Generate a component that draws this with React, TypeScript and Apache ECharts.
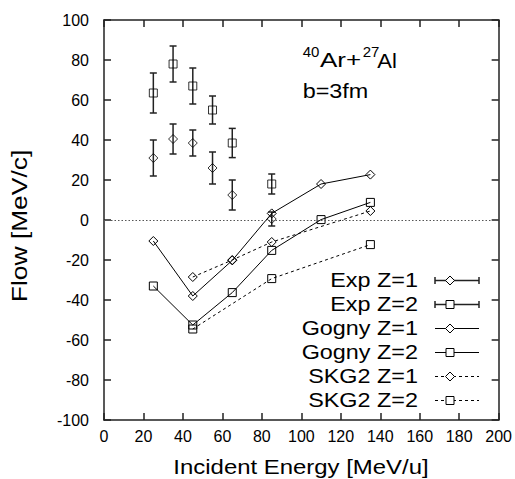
import React, { useEffect, useRef } from "react";
import * as echarts from "echarts";

// ---- data ----
const expEnergies = [25, 35, 45, 55, 65, 85];
const expZ1 = [31, 40.5, 38.5, 26, 12.5, 0.5];
const expZ1Err = [9, 7.5, 6.5, 8, 7.5, 3.5];
const expZ2 = [63.5, 78, 67, 55, 38.5, 18];
const expZ2Err = [10, 9, 9, 7, 7.3, 5];

const gognyEnergies = [25, 45, 65, 85, 110, 135];
const gognyZ1 = [-10.5, -38, -20.2, 3.3, 18, 22.7];
const gognyZ2 = [-33, -52.5, -36.3, -15.2, 0.2, 8.8];

const skg2Z1Energies = [45, 65, 85, 135];
const skg2Z1 = [-28.5, -20, -11, 4.5];
const skg2Z2Energies = [45, 85, 135];
const skg2Z2 = [-54.5, -29.3, -12.3];

const xTicks = { min: 0, max: 200, interval: 20 };
const yTicks = { min: -100, max: 100, interval: 20 };

const legendNames = ["Exp Z=1", "Exp Z=2", "Gogny Z=1", "Gogny Z=2", "SKG2 Z=1", "SKG2 Z=2"];

const FONT = "'Liberation Sans', Arial, Helvetica, sans-serif";
const INK = "#222";

function pairs(xs: number[], ys: number[]) {
  return xs.map((x, i) => [x, ys[i]]);
}
function triples(xs: number[], ys: number[], es: number[]) {
  return xs.map((x, i) => [x, ys[i], es[i]]);
}

function errorRender(params: any, api: any) {
  const x = api.value(0);
  const y = api.value(1);
  const e = api.value(2);
  const top = api.coord([x, y + e]);
  const bot = api.coord([x, y - e]);
  const w = 3.5;
  const st = { stroke: INK, lineWidth: 1.5 };
  return {
    type: "group",
    children: [
      { type: "line", shape: { x1: top[0], y1: top[1], x2: bot[0], y2: bot[1] }, style: st },
      { type: "line", shape: { x1: top[0] - w, y1: top[1], x2: top[0] + w, y2: top[1] }, style: st },
      { type: "line", shape: { x1: bot[0] - w, y1: bot[1], x2: bot[0] + w, y2: bot[1] }, style: st },
    ],
  };
}

function txt(
  text: string,
  x: number,
  y: number,
  size: number,
  align: string,
  scaleX = 1,
  rotation = 0
) {
  return {
    type: "text",
    x,
    y,
    scaleX,
    rotation,
    silent: true,
    style: {
      text,
      fontSize: size,
      fontFamily: FONT,
      fill: "#000",
      textAlign: align,
      align,
      textVerticalAlign: "middle",
      verticalAlign: "middle",
    },
  };
}

function legendGraphics() {
  const els: any[] = [];
  const textRight = 418;
  const x1 = 435;
  const x2 = 479;
  const mx = 450;
  legendNames.forEach((name, i) => {
    const y = 280.5 + i * 24;
    els.push(txt(name, textRight, y, 20, "right", 1.17));
    const dashed = i >= 4;
    const lineStyle: any = { stroke: i < 2 ? INK : "#000", lineWidth: i < 2 ? 1.5 : 1 };
    if (dashed) lineStyle.lineDash = [3, 3];
    els.push({ type: "line", silent: true, shape: { x1, y1: y, x2, y2: y }, style: lineStyle });
    if (i < 2) {
      els.push({ type: "line", silent: true, shape: { x1, y1: y - 3.5, x2: x1, y2: y + 3.5 }, style: { stroke: INK, lineWidth: 1.5 } });
      els.push({ type: "line", silent: true, shape: { x1: x2, y1: y - 3.5, x2: x2, y2: y + 3.5 }, style: { stroke: INK, lineWidth: 1.5 } });
    }
    const isDiamond = i % 2 === 0;
    if (isDiamond) {
      els.push({
        type: "polygon",
        silent: true,
        shape: { points: [[mx, y - 4.5], [mx + 4.5, y], [mx, y + 4.5], [mx - 4.5, y]] },
        style: { fill: "#fff", stroke: "#000", lineWidth: 1 },
      });
    } else {
      els.push({
        type: "rect",
        silent: true,
        shape: { x: mx - 4, y: y - 4, width: 8, height: 8 },
        style: { fill: "#fff", stroke: "#000", lineWidth: 1 },
      });
    }
  });
  return els;
}

function axisCommon(extra: any) {
  return {
    type: "value",
    splitLine: { show: false },
    axisLine: { show: true, onZero: false, lineStyle: { color: INK, width: 1.5 } },
    axisTick: { show: true, inside: true, length: 7, lineStyle: { color: INK, width: 1.5 } },
    ...extra,
  };
}

const markerStyle = { color: "transparent", borderColor: "#000", borderWidth: 1 };

export default function App() {
  const ref = useRef<HTMLDivElement>(null);
  useEffect(() => {
    if (!ref.current) return;
    const chart = echarts.init(ref.current, null, { renderer: "svg" });
    const labelStyle = { fontSize: 16, color: "#000", fontFamily: FONT };
    chart.setOption({
      animation: false,
      backgroundColor: "#fff",
      grid: { left: 104, right: 16, top: 20, bottom: 59 },
      xAxis: [
        axisCommon({ ...xTicks, position: "bottom", axisLabel: { ...labelStyle, margin: 8 } }),
        axisCommon({ ...xTicks, position: "top", axisLabel: { show: false } }),
      ],
      yAxis: [
        axisCommon({ ...yTicks, position: "left", axisLabel: { ...labelStyle, margin: 15 } }),
        axisCommon({ ...yTicks, position: "right", axisLabel: { show: false } }),
      ],
      series: [
        {
          name: "zero",
          type: "line",
          data: [],
          markLine: {
            silent: true,
            symbol: "none",
            label: { show: false },
            lineStyle: { type: [1.5, 2], color: "#555", width: 1 },
            data: [{ yAxis: 0 }],
          },
        },
        {
          name: "Gogny Z=1",
          type: "line",
          data: pairs(gognyEnergies, gognyZ1),
          symbol: "diamond",
          symbolSize: 9,
          lineStyle: { color: "#000", width: 1 },
          itemStyle: markerStyle,
        },
        {
          name: "Gogny Z=2",
          type: "line",
          data: pairs(gognyEnergies, gognyZ2),
          symbol: "rect",
          symbolSize: 8,
          lineStyle: { color: "#000", width: 1 },
          itemStyle: markerStyle,
        },
        {
          name: "SKG2 Z=1",
          type: "line",
          data: pairs(skg2Z1Energies, skg2Z1),
          symbol: "diamond",
          symbolSize: 9,
          lineStyle: { color: "#000", width: 1, type: [3, 3] },
          itemStyle: markerStyle,
        },
        {
          name: "SKG2 Z=2",
          type: "line",
          data: pairs(skg2Z2Energies, skg2Z2),
          symbol: "rect",
          symbolSize: 8,
          lineStyle: { color: "#000", width: 1, type: [3, 3] },
          itemStyle: markerStyle,
        },
        {
          name: "Exp Z=1 err",
          type: "custom",
          renderItem: errorRender,
          encode: { x: 0, y: 1 },
          data: triples(expEnergies, expZ1, expZ1Err),
        },
        {
          name: "Exp Z=2 err",
          type: "custom",
          renderItem: errorRender,
          encode: { x: 0, y: 1 },
          data: triples(expEnergies, expZ2, expZ2Err),
        },
        {
          name: "Exp Z=1",
          type: "scatter",
          data: pairs(expEnergies, expZ1),
          symbol: "diamond",
          symbolSize: 9,
          itemStyle: markerStyle,
        },
        {
          name: "Exp Z=2",
          type: "scatter",
          data: pairs(expEnergies, expZ2),
          symbol: "rect",
          symbolSize: 8,
          itemStyle: markerStyle,
        },
      ],
      graphic: [
        txt("Incident Energy [MeV/u]", 301, 467.5, 21, "center", 1.14),
        txt("Flow [MeV/c]", 19, 226, 22, "center", 1.2, Math.PI / 2),
        txt("40", 302.7, 51.3, 15, "left", 1),
        txt("Ar+", 320, 60.5, 20, "left", 1.3),
        txt("27", 362.7, 51.3, 15, "left", 1),
        txt("Al", 377.3, 60.5, 20, "left", 1.1),
        txt("b=3fm", 302.7, 91, 20, "left", 1.17),
        ...legendGraphics(),
      ],
    });
    return () => chart.dispose();
  }, []);
  return (
    <div
      ref={ref}
      style={{ position: "fixed", left: 0, top: 0, width: 515, height: 479 }}
    />
  );
}
